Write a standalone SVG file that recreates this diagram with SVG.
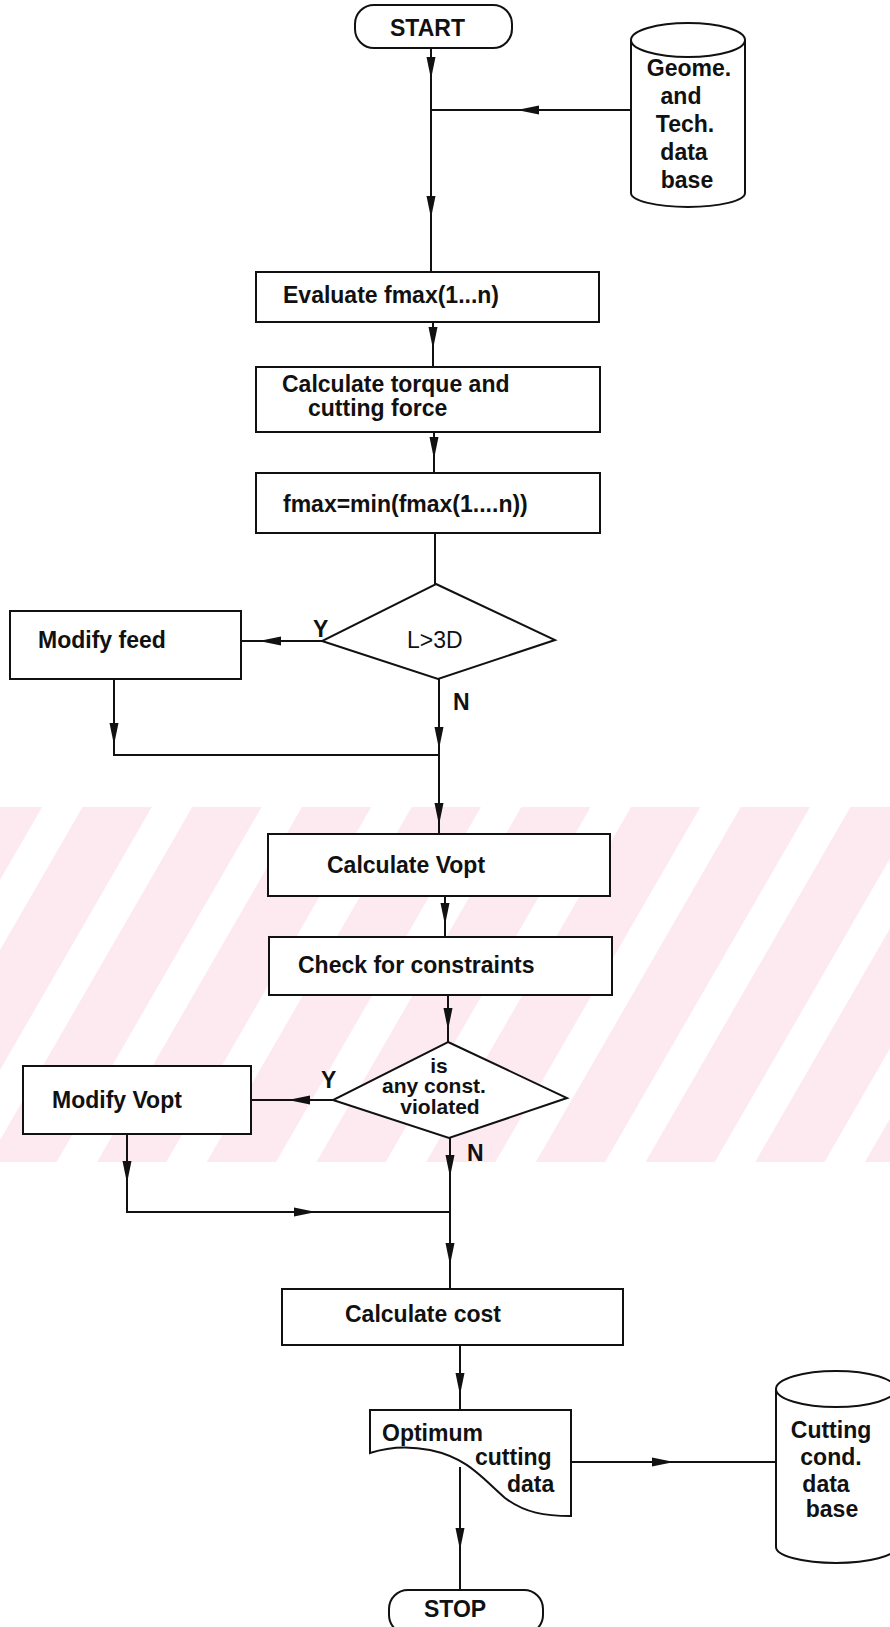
<svg xmlns="http://www.w3.org/2000/svg" xmlns:xlink="http://www.w3.org/1999/xlink" width="890" height="1627" viewBox="0 0 890 1627">
  <style>
    .shape { fill: #ffffff; stroke: #111111; stroke-width: 2; }
    .line { fill: none; stroke: #111111; stroke-width: 2; }
    .head { fill: #111111; stroke: none; }
    .t { font-family: "Liberation Sans", Arial, sans-serif; font-size: 23px; font-weight: bold; fill: #111111; }
    .ts { font-family: "Liberation Sans", Arial, sans-serif; font-size: 21px; font-weight: bold; fill: #111111; }
    .tr { font-family: "Liberation Sans", Arial, sans-serif; font-size: 23px; font-weight: normal; fill: #111111; }
    .c { text-anchor: middle; }
  </style>
  <defs>
    <!-- arrowhead, tip at origin, pointing down -->
    <path id="ah" d="M0,0 L-4.5,-22 L4.5,-22 Z"/>
    <pattern id="stripes" patternUnits="userSpaceOnUse" width="95" height="95" patternTransform="rotate(30)">
      <rect x="0" y="0" width="60" height="95" fill="#fdeaf0"/>
    </pattern>
  </defs>

  <rect width="890" height="1627" fill="#ffffff"/>

  <!-- background watermark band -->
  <rect x="0" y="807" width="890" height="355" fill="url(#stripes)"/>

  <g id="connectors">
    <!-- start to first process -->
    <path class="line" d="M431,48 V272"/>
    <use href="#ah" class="head" transform="translate(431,79)"/>
    <use href="#ah" class="head" transform="translate(431,218)"/>
    <!-- geometry database feed -->
    <path class="line" d="M631,110 H431"/>
    <use href="#ah" class="head" transform="translate(517,110) rotate(90)"/>
    <!-- process chain -->
    <path class="line" d="M433,322 V367"/>
    <use href="#ah" class="head" transform="translate(433,349)"/>
    <path class="line" d="M434,432 V473"/>
    <use href="#ah" class="head" transform="translate(434,459)"/>
    <path class="line" d="M435,533 V584"/>
    <!-- decision L>3D -->
    <path class="line" d="M322,641 H241"/>
    <use href="#ah" class="head" transform="translate(259,641) rotate(90)"/>
    <path class="line" d="M114,679 V755 H439"/>
    <use href="#ah" class="head" transform="translate(114,745)"/>
    <path class="line" d="M439,679 V834"/>
    <use href="#ah" class="head" transform="translate(439,749)"/>
    <use href="#ah" class="head" transform="translate(439,825)"/>
    <!-- Vopt chain -->
    <path class="line" d="M445,896 V937"/>
    <use href="#ah" class="head" transform="translate(445,925)"/>
    <path class="line" d="M448,995 V1042"/>
    <use href="#ah" class="head" transform="translate(448,1030)"/>
    <!-- decision constraints -->
    <path class="line" d="M333,1100 H251"/>
    <use href="#ah" class="head" transform="translate(288,1100) rotate(90)"/>
    <path class="line" d="M127,1134 V1212 H450"/>
    <use href="#ah" class="head" transform="translate(127,1183)"/>
    <use href="#ah" class="head" transform="translate(316,1212) rotate(-90)"/>
    <path class="line" d="M450,1138 V1289"/>
    <use href="#ah" class="head" transform="translate(450,1177)"/>
    <use href="#ah" class="head" transform="translate(450,1265)"/>
    <!-- cost to output -->
    <path class="line" d="M460,1345 V1410"/>
    <use href="#ah" class="head" transform="translate(460,1395)"/>
    <path class="line" d="M571,1462 H776"/>
    <use href="#ah" class="head" transform="translate(674,1462) rotate(-90)"/>
    <path class="line" d="M460,1467 V1590"/>
    <use href="#ah" class="head" transform="translate(460,1550)"/>
  </g>

  <g id="start">
    <rect class="shape" x="355" y="5" width="157" height="43" rx="19"/>
    <text class="t" x="390" y="36">START</text>
  </g>

  <g id="geo-db">
    <path class="shape" d="M631,40 V193 A57,14 0 0 0 745,193 V40"/>
    <ellipse class="shape" cx="688" cy="40" rx="57" ry="17"/>
    <text class="t c" x="689" y="76">Geome.</text>
    <text class="t c" x="681" y="104">and</text>
    <text class="t c" x="685" y="132">Tech.</text>
    <text class="t c" x="684" y="160">data</text>
    <text class="t c" x="687" y="188">base</text>
  </g>

  <g id="evaluate">
    <rect class="shape" x="256" y="272" width="343" height="50"/>
    <text class="t" x="283" y="303">Evaluate fmax(1...n)</text>
  </g>

  <g id="torque">
    <rect class="shape" x="256" y="367" width="344" height="65"/>
    <text class="t" x="282" y="392">Calculate torque and</text>
    <text class="t" x="308" y="416">cutting force</text>
  </g>

  <g id="fmax">
    <rect class="shape" x="256" y="473" width="344" height="60"/>
    <text class="t" x="283" y="512">fmax=min(fmax(1....n))</text>
  </g>

  <g id="check-length">
    <polygon class="shape" points="436,584 555,640 438,679 322,641"/>
    <text class="tr" x="407" y="648">L&gt;3D</text>
    <text class="t" x="313" y="637">Y</text>
    <text class="t" x="453" y="710">N</text>
  </g>

  <g id="modify-feed">
    <rect class="shape" x="10" y="611" width="231" height="68"/>
    <text class="t" x="38" y="648">Modify feed</text>
  </g>

  <g id="vopt">
    <rect class="shape" x="268" y="834" width="342" height="62"/>
    <text class="t" x="327" y="873">Calculate Vopt</text>
  </g>

  <g id="constraints">
    <rect class="shape" x="269" y="937" width="343" height="58"/>
    <text class="t" x="298" y="973">Check for constraints</text>
  </g>

  <g id="check-violation">
    <polygon class="shape" points="448,1042 567,1098 449,1138 333,1100"/>
    <text class="ts c" x="439" y="1073">is</text>
    <text class="ts c" x="434" y="1093">any const.</text>
    <text class="ts c" x="440" y="1114">violated</text>
    <text class="t" x="321" y="1088">Y</text>
    <text class="t" x="467" y="1161">N</text>
  </g>

  <g id="modify-vopt">
    <rect class="shape" x="23" y="1066" width="228" height="68"/>
    <text class="t" x="52" y="1108">Modify Vopt</text>
  </g>

  <g id="cost">
    <rect class="shape" x="282" y="1289" width="341" height="56"/>
    <text class="t" x="345" y="1322">Calculate cost</text>
  </g>

  <g id="output-doc">
    <path class="shape" d="M370,1410 H571 V1516 C545,1516 525,1513 505,1498 C482,1478 468,1458 430,1450 C405,1445 385,1448 370,1453 Z"/>
    <text class="t" x="382" y="1441">Optimum</text>
    <text class="t" x="475" y="1465">cutting</text>
    <text class="t" x="507" y="1492">data</text>
  </g>

  <g id="cutting-db">
    <path class="shape" d="M776,1389 V1547 A60,16 0 0 0 896,1547 V1389"/>
    <ellipse class="shape" cx="836" cy="1389" rx="60" ry="18"/>
    <text class="t c" x="831" y="1438">Cutting</text>
    <text class="t c" x="831" y="1465">cond.</text>
    <text class="t c" x="826" y="1492">data</text>
    <text class="t c" x="832" y="1517">base</text>
  </g>

  <g id="stop">
    <rect class="shape" x="389" y="1590" width="154" height="44" rx="19"/>
    <text class="t" x="424" y="1617">STOP</text>
  </g>
</svg>
